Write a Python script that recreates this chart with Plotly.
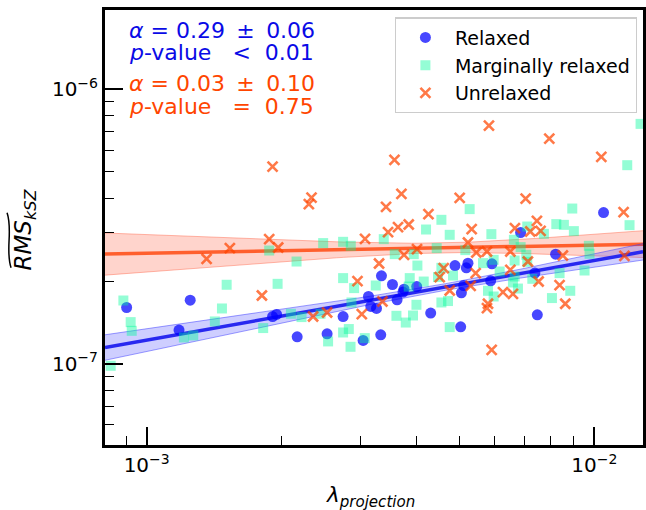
import numpy as np
import plotly.graph_objects as go

# ---------------- data ----------------
relaxed_lambda = [0.902e-3, 1.251e-3, 1.181e-3, 1.911e-3, 1.951e-3, 2.169e-3, 2.530e-3, 2.747e-3,
                  3.045e-3, 3.334e-3, 3.130e-3, 3.168e-3, 3.262e-3, 3.346e-3, 3.541e-3, 3.626e-3,
                  3.739e-3, 3.758e-3, 4.012e-3, 4.311e-3, 4.885e-3, 5.179e-3, 5.222e-3, 5.048e-3,
                  5.030e-3, 5.108e-3, 5.868e-3, 5.908e-3, 6.846e-3, 7.368e-3, 7.461e-3, 8.197e-3,
                  10.49e-3]
relaxed_rms = [1.603e-7, 1.705e-7, 1.326e-7, 1.486e-7, 1.512e-7, 1.254e-7, 1.286e-7, 1.486e-7,
               1.216e-7, 1.275e-7, 1.758e-7, 1.617e-7, 1.590e-7, 2.091e-7, 1.944e-7, 1.710e-7,
               1.824e-7, 1.870e-7, 1.911e-7, 1.530e-7, 2.279e-7, 2.236e-7, 2.325e-7, 1.813e-7,
               1.363e-7, 1.928e-7, 2.005e-7, 2.312e-7, 3.006e-7, 2.139e-7, 1.508e-7, 2.508e-7,
               3.554e-7]

marginal_lambda = [0.831e-3, 0.887e-3, 0.921e-3, 0.926e-3, 1.211e-3, 1.271e-3, 1.420e-3, 1.473e-3,
                   1.509e-3, 1.821e-3, 1.878e-3, 1.961e-3, 2.162e-3, 2.100e-3, 2.218e-3, 2.479e-3,
                   2.747e-3, 2.858e-3, 3.386e-3, 4.209e-3, 4.555e-3, 4.754e-3, 5.268e-3, 3.583e-3,
                   3.951e-3, 4.446e-3, 4.026e-3, 5.152e-3, 4.555e-3, 2.747e-3, 2.907e-3, 3.249e-3,
                   3.870e-3, 4.159e-3, 4.476e-3, 4.835e-3, 3.850e-3, 4.555e-3, 4.713e-3, 4.006e-3,
                   3.614e-3, 3.936e-3, 3.792e-3, 2.446e-3, 2.747e-3, 2.829e-3, 2.543e-3, 2.854e-3,
                   3.071e-3, 4.754e-3, 2.868e-3, 12.69e-3, 11.85e-3, 8.930e-3, 5.890e-3, 8.226e-3,
                   8.553e-3, 9.004e-3, 11.99e-3, 7.718e-3, 7.085e-3, 6.614e-3, 6.847e-3, 9.725e-3,
                   9.761e-3, 7.050e-3, 5.641e-3, 5.960e-3, 6.147e-3, 6.638e-3, 7.085e-3, 8.366e-3,
                   9.513e-3, 7.271e-3, 6.581e-3, 6.753e-3, 5.788e-3, 5.960e-3, 8.839e-3, 8.044e-3,
                   6.638e-3]
marginal_rms = [0.983e-7, 1.700e-7, 1.418e-7, 1.318e-7, 1.247e-7, 1.268e-7, 1.426e-7, 1.590e-7,
                1.940e-7, 1.349e-7, 2.585e-7, 1.955e-7, 2.357e-7, 1.521e-7, 1.479e-7, 2.751e-7,
                2.781e-7, 2.689e-7, 2.844e-7, 3.083e-7, 3.344e-7, 2.949e-7, 3.658e-7, 2.508e-7,
                2.508e-7, 2.638e-7, 2.279e-7, 2.594e-7, 2.236e-7, 2.051e-7, 1.886e-7, 1.928e-7,
                2.051e-7, 1.993e-7, 2.069e-7, 2.096e-7, 1.911e-7, 1.672e-7, 1.692e-7, 1.640e-7,
                1.495e-7, 1.499e-7, 1.413e-7, 1.521e-7, 1.300e-7, 1.338e-7, 1.206e-7, 1.153e-7,
                1.240e-7, 1.360e-7, 1.672e-7, 7.476e-7, 5.288e-7, 3.676e-7, 2.966e-7, 3.226e-7,
                3.206e-7, 3.042e-7, 3.198e-7, 2.973e-7, 3.161e-7, 2.828e-7, 2.660e-7, 2.689e-7,
                2.515e-7, 2.494e-7, 2.326e-7, 2.391e-7, 2.168e-7, 2.377e-7, 2.351e-7, 2.139e-7,
                2.186e-7, 2.039e-7, 1.977e-7, 1.879e-7, 1.844e-7, 1.758e-7, 1.844e-7, 1.735e-7,
                2.079e-7]

unrelaxed_lambda = [1.911e-3, 1.361e-3, 1.534e-3, 1.878e-3, 1.967e-3, 1.809e-3, 3.578e-3, 2.335e-3,
                    2.303e-3, 3.708e-3, 3.426e-3, 5.004e-3, 4.261e-3, 3.850e-3, 3.644e-3, 3.462e-3,
                    3.075e-3, 4.018e-3, 3.758e-3, 3.305e-3, 2.958e-3, 4.515e-3, 4.609e-3, 2.354e-3,
                    2.530e-3, 3.024e-3, 3.363e-3, 4.754e-3, 5.817e-3, 7.935e-3, 10.37e-3, 7.026e-3,
                    11.63e-3, 5.322e-3, 6.648e-3, 7.445e-3, 7.587e-3, 7.196e-3, 5.222e-3, 5.452e-3,
                    5.758e-3, 6.494e-3, 8.509e-3, 11.68e-3, 7.108e-3, 6.494e-3, 5.433e-3, 7.510e-3,
                    5.295e-3, 8.366e-3, 6.252e-3, 6.581e-3, 5.788e-3, 5.758e-3, 8.615e-3, 5.899e-3]
unrelaxed_rms = [5.226e-7, 2.411e-7, 2.638e-7, 2.844e-7, 2.651e-7, 1.773e-7, 5.528e-7, 4.030e-7,
                 3.815e-7, 4.157e-7, 3.729e-7, 4.020e-7, 3.507e-7, 3.215e-7, 3.145e-7, 3.016e-7,
                 2.851e-7, 2.616e-7, 2.494e-7, 2.318e-7, 2.000e-7, 2.069e-7, 2.230e-7, 1.486e-7,
                 1.537e-7, 1.517e-7, 1.686e-7, 1.848e-7, 7.370e-7, 6.611e-7, 5.669e-7, 3.997e-7,
                 3.566e-7, 3.093e-7, 3.119e-7, 3.316e-7, 3.049e-7, 3.031e-7, 2.764e-7, 2.542e-7,
                 2.563e-7, 2.563e-7, 2.479e-7, 2.473e-7, 2.357e-7, 2.199e-7, 2.139e-7, 1.993e-7,
                 1.922e-7, 1.934e-7, 1.824e-7, 1.798e-7, 1.654e-7, 1.595e-7, 1.654e-7, 1.124e-7]

# power-law fits  RMS = norm * (lambda / pivot)^alpha   (log-space uncertainties)
fit_pivot = 4.5e-3
relaxed_fit = dict(alpha=0.29, alpha_err=0.06, norm=1.886e-7, lognorm_err=0.012)
unrelaxed_fit = dict(alpha=0.03, alpha_err=0.10, norm=2.642e-7, lognorm_err=0.018)

x_tick_vals = [1e-3, 1e-2]
x_tick_text = ["10<sup>−3</sup>", "10<sup>−2</sup>"]
x_minor_vals = [9e-4, 2e-3, 3e-3, 4e-3, 5e-3, 6e-3, 7e-3, 8e-3, 9e-3]
y_tick_vals = [1e-7, 1e-6]
y_tick_text = ["10<sup>−7</sup>", "10<sup>−6</sup>"]
y_minor_vals = [6e-8, 7e-8, 8e-8, 9e-8, 2e-7, 3e-7, 4e-7, 5e-7, 6e-7, 7e-7, 8e-7, 9e-7]

x_range = [8.07e-4, 1.285e-2]
y_range = [5.06e-8, 1.943e-6]

FONT = "DejaVu Sans"

# ---------------- figure ----------------
fig = go.Figure()

xs = np.logspace(np.log10(x_range[0]), np.log10(x_range[1]), 80)


def add_fit(fit, line_col, fill_col, edge_col):
    u = np.log10(xs / fit_pivot)
    logy = np.log10(fit["norm"]) + fit["alpha"] * u
    sig = np.sqrt(fit["lognorm_err"] ** 2 + (fit["alpha_err"] * u) ** 2)
    lo = 10 ** (logy - sig)
    hi = 10 ** (logy + sig)
    fig.add_trace(go.Scatter(x=xs, y=lo, mode="lines", line=dict(color=edge_col, width=1),
                             showlegend=False, hoverinfo="skip"))
    fig.add_trace(go.Scatter(x=xs, y=hi, mode="lines", line=dict(color=edge_col, width=1),
                             fill="tonexty", fillcolor=fill_col, showlegend=False, hoverinfo="skip"))
    fig.add_trace(go.Scatter(x=xs, y=10 ** logy, mode="lines", line=dict(color=line_col, width=3.5),
                             showlegend=False, hoverinfo="skip"))


add_fit(unrelaxed_fit, "rgb(255,95,45)", "rgba(255,99,71,0.28)", "rgba(255,99,71,0.45)")
add_fit(relaxed_fit, "rgb(40,40,240)", "rgba(60,60,255,0.25)", "rgba(60,60,255,0.5)")

fig.add_trace(go.Scatter(
    x=relaxed_lambda, y=relaxed_rms, mode="markers", name="Relaxed",
    marker=dict(symbol="circle", size=11, color="rgba(0,0,255,0.72)", line=dict(width=0))))
fig.add_trace(go.Scatter(
    x=marginal_lambda, y=marginal_rms, mode="markers", name="Marginally relaxed",
    marker=dict(symbol="square", size=10, color="rgba(0,250,154,0.42)", line=dict(width=0))))
fig.add_trace(go.Scatter(
    x=unrelaxed_lambda, y=unrelaxed_rms, mode="markers", name="Unrelaxed",
    marker=dict(symbol="x-thin", size=10, color="rgba(255,69,0,0.72)",
                line=dict(width=2.6, color="rgba(255,69,0,0.72)"))))

axis_common = dict(
    type="log", showgrid=False, zeroline=False, automargin=False,
    showline=True, linecolor="black", linewidth=3, mirror=True,
    ticks="inside", ticklen=18, tickwidth=1.6, tickcolor="black",
    tickfont=dict(family=FONT, size=20, color="black"),
)

fig.update_xaxes(
    **axis_common, range=[np.log10(x_range[0]), np.log10(x_range[1])],
    tickmode="array", tickvals=x_tick_vals, ticktext=x_tick_text,
    minor=dict(tickmode="array", tickvals=x_minor_vals, ticks="inside", ticklen=9,
               tickwidth=1.4, tickcolor="black", showgrid=False),
)
fig.update_yaxes(
    **axis_common, range=[np.log10(y_range[0]), np.log10(y_range[1])],
    tickmode="array", tickvals=y_tick_vals, ticktext=y_tick_text,
    minor=dict(tickmode="array", tickvals=y_minor_vals, ticks="inside", ticklen=9,
               tickwidth=1.4, tickcolor="black", showgrid=False),
)

NB = "&nbsp;"
TH = "\u2009"
ann_font_blue = dict(family=FONT, size=22, color="rgb(10,10,230)")
ann_font_or = dict(family=FONT, size=22, color="rgb(255,69,0)")
stats = [
    ("<i>α</i> = 0.29 " + TH + "± " + TH + "0.06", 0.9540, ann_font_blue),
    ("<i>p</i>-value" + NB * 3 + "&lt;" + NB + " 0.01", 0.9020, ann_font_blue),
    ("<i>α</i> = 0.03 " + TH + "± " + TH + "0.10", 0.8320, ann_font_or),
    ("<i>p</i>-value" + NB * 3 + "=" + NB + " 0.75", 0.7790, ann_font_or),
]
annotations = []
for txt, yy, f in stats:
    annotations.append(dict(text=txt, x=0.040, y=yy, xref="paper", yref="paper",
                            xanchor="left", yanchor="middle", showarrow=False, font=f))
# y-axis title (rotated)
annotations.append(dict(text="<i>RMS</i><sub><i>kSZ</i></sub>", x=-0.149, y=0.495,
                        xref="paper", yref="paper", xanchor="center", yanchor="middle",
                        textangle=-90, showarrow=False,
                        font=dict(family=FONT, size=23, color="black")))
# x-axis title
annotations.append(dict(text="<i>λ</i><sub><i>projection</i></sub>", x=0.494, y=-0.118,
                        xref="paper", yref="paper", xanchor="center", yanchor="middle",
                        showarrow=False, font=dict(family=FONT, size=21.5, color="black")))

fig.update_layout(
    width=646, height=510,
    margin=dict(l=105, r=2.5, t=10, b=64.7, autoexpand=False),
    paper_bgcolor="white", plot_bgcolor="white",
    font=dict(family=FONT, color="black"),
    annotations=annotations,
    shapes=[dict(type="path", xref="paper", yref="paper",
                 path="M -0.1746,0.4073 C -0.1857,0.4489 -0.1709,0.4925 -0.1820,0.5338",
                 line=dict(color="black", width=1.5))],
    legend=dict(x=0.5385, y=0.983, xanchor="left", yanchor="top", traceorder="normal",
                bgcolor="white", bordercolor="#cccccc", borderwidth=1.2,
                font=dict(family=FONT, size=19, color="black"), itemwidth=49,
                tracegroupgap=0),
)

fig.write_html(
    "out.html",
    config={"displayModeBar": False},
    post_script="document.body.style.margin='0';document.body.style.overflow='hidden';",
)
